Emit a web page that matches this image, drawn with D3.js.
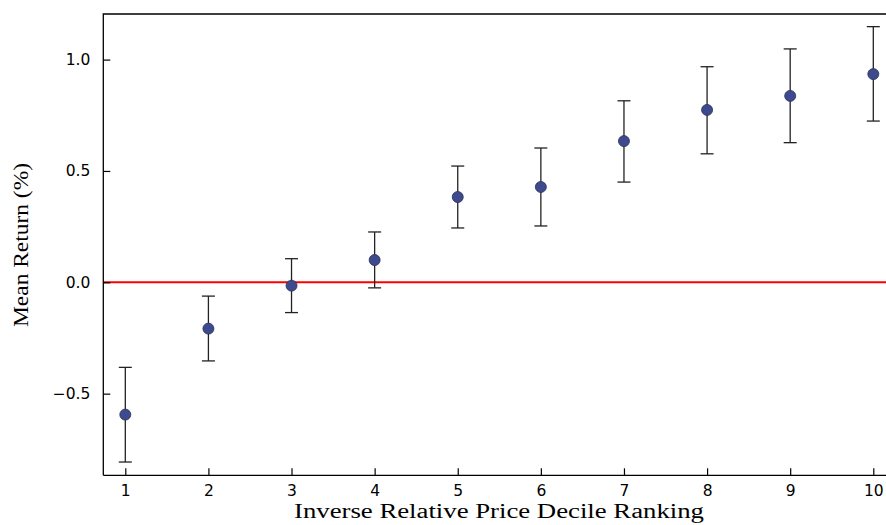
<!DOCTYPE html>
<html><head><meta charset="utf-8">
<script src="https://cdn.jsdelivr.net/npm/d3@7"></script>
<style>body{margin:0;background:#fff}svg{display:block}</style>
</head><body>
<svg id="c" width="886" height="525"></svg>
<script>
const deciles = [1,2,3,4,5,6,7,8,9,10];
const meanReturn = [-0.594,-0.208,-0.015,0.100,0.383,0.428,0.634,0.774,0.837,0.935];
const errUpper   = [-0.382,-0.062,0.106,0.226,0.522,0.603,0.815,0.968,1.048,1.148];
const errLower   = [-0.807,-0.353,-0.136,-0.025,0.244,0.253,0.450,0.577,0.627,0.724];
const yTicks = [-0.5,0.0,0.5,1.0];
const xTicks = [1,2,3,4,5,6,7,8,9,10];

const svg = d3.select("#c");
const L=103.3, T=14, R=889, B=475.3;
const x = d3.scaleLinear().domain([1,10]).range([125.3,873.3]);
const y = d3.scaleLinear().domain([0,1]).range([282.3,282.3-222.7]);

// zero line
svg.append("line").attr("x1",L).attr("x2",R).attr("y1",y(0)).attr("y2",y(0))
  .attr("stroke","#ff0000").attr("stroke-width",2);

// axes
const xa = d3.axisBottom(x).tickValues(xTicks).tickSize(-7).tickPadding(10).tickFormat(d3.format("d"));
const ya = d3.axisLeft(y).tickValues(yTicks).tickSize(-7).tickPadding(13).tickFormat(d=>d3.format(".1f")(d).replace("-","\u2212"));
const gx = svg.append("g").attr("transform",`translate(0,${B})`).call(xa);
const gy = svg.append("g").attr("transform",`translate(${L},0)`).call(ya);
[gx,gy].forEach(g=>{
  g.attr("font-size",null).attr("font-family",null);
  g.select(".domain").remove();
  g.selectAll("line").attr("stroke","#000").attr("stroke-width",1.2);
  g.selectAll("text").style("font-family","'DejaVu Sans'").style("font-size","15.5px").attr("fill","#000");
});
// frame
svg.append("path").attr("d",`M${L},${B}V${T}H${R}M${L},${B}H${R}`)
  .attr("fill","none").attr("stroke","#000").attr("stroke-width",1.3);

// error bars
const g = svg.append("g");
deciles.forEach((d,i)=>{
  const cx=x(d);
  g.append("line").attr("x1",cx).attr("x2",cx).attr("y1",y(errUpper[i])).attr("y2",y(errLower[i]))
    .attr("stroke","#222").attr("stroke-width",1.3);
  [errUpper[i],errLower[i]].forEach(v=>{
    g.append("line").attr("x1",cx-6.5).attr("x2",cx+6.5).attr("y1",y(v)).attr("y2",y(v))
      .attr("stroke","#222").attr("stroke-width",1.3);
  });
});
g.selectAll("circle").data(deciles).join("circle")
  .attr("cx",d=>x(d)).attr("cy",(d,i)=>y(meanReturn[i])).attr("r",5.5)
  .attr("fill","#3d4a8e").attr("stroke","#2b2f55").attr("stroke-width",0.8);

// labels
svg.append("text").attr("x",499).attr("y",518).attr("text-anchor","middle")
  .style("font-family","'Liberation Serif'").style("font-size","20px")
  .attr("textLength",410).attr("lengthAdjust","spacingAndGlyphs")
  .text("Inverse Relative Price Decile Ranking");
svg.append("text").attr("transform","translate(28,245) rotate(-90)").attr("text-anchor","middle")
  .style("font-family","'Liberation Serif'").style("font-size","20px")
  .attr("textLength",164).attr("lengthAdjust","spacingAndGlyphs")
  .text("Mean Return (%)");
</script>
</body></html>
